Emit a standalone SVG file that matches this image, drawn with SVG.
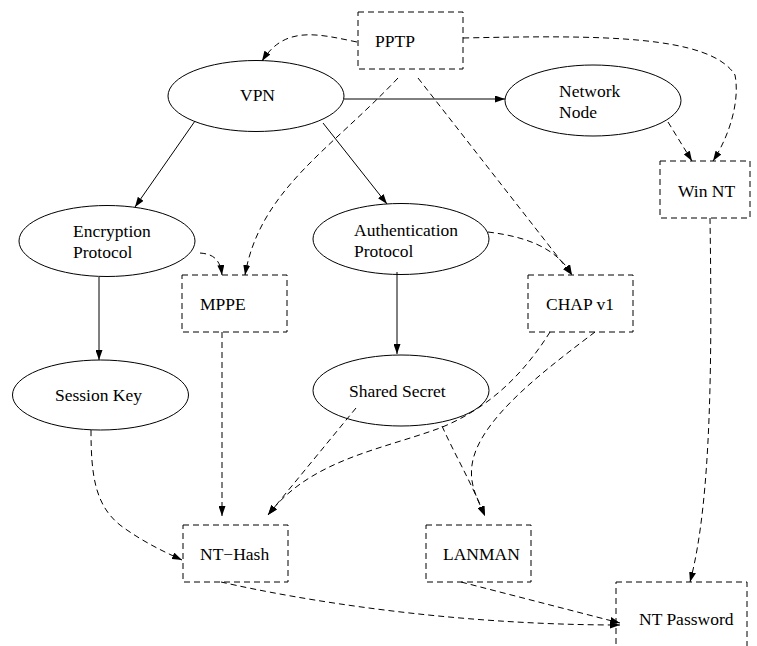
<svg xmlns="http://www.w3.org/2000/svg" width="757" height="646" viewBox="0 0 757 646">
<style>
  .bg { fill: #ffffff; }
  .ell { fill: none; stroke: #000; stroke-width: 1; }
  .box { fill: none; stroke: #000; stroke-width: 1; stroke-dasharray: 6,4; }
  .lbl { font-family: "Liberation Serif", "Times New Roman", serif; font-size: 17.5px; fill: #000; }
  .solid { fill: none; stroke: #000; stroke-width: 1; marker-end: url(#arrow); }
  .dash { fill: none; stroke: #000; stroke-width: 1; stroke-dasharray: 6,4; marker-end: url(#arrow); }
</style>
<defs>
  <marker id="arrow" markerUnits="userSpaceOnUse" viewBox="0 0 10 7" refX="10" refY="3.5" markerWidth="10" markerHeight="7" orient="auto">
    <path d="M0,0 L10,3.5 L0,7 z" fill="#000" stroke="none"/>
  </marker>
</defs>
<rect class="bg" x="0" y="0" width="757" height="646"/>

<g id="connectors">
  <path class="dash" d="M357,42 C318,34 285,25 262,61"/>
  <path class="dash" d="M463,38 C600,35 710,35 735,75 C740,100 730,135 713,161"/>
  <path class="dash" d="M398,78 C330,150 260,190 245,275"/>
  <path class="dash" d="M418,78 L572,275"/>
  <path class="solid" d="M344,99 L505,99"/>
  <path class="solid" d="M195,121 L135,207"/>
  <path class="solid" d="M323,123 L387,204"/>
  <path class="dash" d="M668,122 L692,161"/>
  <path class="dash" d="M200,253 C212,254 220,258 222,275"/>
  <path class="solid" d="M99,277 L99,360"/>
  <path class="dash" d="M488,232 C520,236 555,245 572,275"/>
  <path class="solid" d="M397,272 L397,354"/>
  <path class="dash" d="M222,332 L222,516"/>
  <path class="dash" d="M91,430 C91,475 95,505 120,525 C140,540 160,550 182,560"/>
  <path class="dash" d="M356,408 L268,515"/>
  <path class="dash" d="M550,332 C525,372 490,408 440,428 C380,450 310,460 268,515"/>
  <path class="dash" d="M595,332 C545,370 478,420 472,465 C469,485 478,500 485,516"/>
  <path class="dash" d="M442,426 C455,455 470,480 485,516"/>
  <path class="dash" d="M710,218 C712,350 712,500 690,582"/>
  <path class="dash" d="M221,582 C300,600 450,625 620,625"/>
  <path class="dash" d="M461,582 L620,623"/>
</g>

<g id="pptp">
  <rect class="box" x="358" y="12" width="105" height="57"/>
  <text class="lbl" x="375" y="47">PPTP</text>
</g>
<g id="vpn">
  <ellipse class="ell" cx="256" cy="96" rx="88" ry="35.5"/>
  <text class="lbl" x="240" y="101">VPN</text>
</g>
<g id="network-node">
  <ellipse class="ell" cx="593" cy="100.5" rx="88" ry="35.5"/>
  <text class="lbl" x="559" y="97">Network</text>
  <text class="lbl" x="559" y="118">Node</text>
</g>
<g id="win-nt">
  <rect class="box" x="660" y="161" width="90" height="57"/>
  <text class="lbl" x="678" y="197">Win NT</text>
</g>
<g id="encryption-protocol">
  <ellipse class="ell" cx="107" cy="241" rx="88" ry="35.5"/>
  <text class="lbl" x="73" y="237">Encryption</text>
  <text class="lbl" x="73" y="258">Protocol</text>
</g>
<g id="authentication-protocol">
  <ellipse class="ell" cx="401" cy="239" rx="88" ry="35.5"/>
  <text class="lbl" x="354" y="236">Authentication</text>
  <text class="lbl" x="354" y="257">Protocol</text>
</g>
<g id="mppe">
  <rect class="box" x="182" y="275" width="105" height="57"/>
  <text class="lbl" x="200" y="310">MPPE</text>
</g>
<g id="chap-v1">
  <rect class="box" x="528" y="275" width="105" height="57"/>
  <text class="lbl" x="546" y="310">CHAP v1</text>
</g>
<g id="session-key">
  <ellipse class="ell" cx="100.5" cy="395" rx="88" ry="35"/>
  <text class="lbl" x="55" y="401">Session Key</text>
</g>
<g id="shared-secret">
  <ellipse class="ell" cx="401" cy="390.5" rx="88" ry="35.5"/>
  <text class="lbl" x="349" y="397">Shared Secret</text>
</g>
<g id="nt-hash">
  <rect class="box" x="183" y="525" width="105" height="57"/>
  <text class="lbl" x="200" y="560">NT−Hash</text>
</g>
<g id="lanman">
  <rect class="box" x="426" y="525" width="105" height="57"/>
  <text class="lbl" x="443" y="560">LANMAN</text>
</g>
<g id="nt-password">
  <rect class="box" x="616" y="582" width="131" height="80"/>
  <text class="lbl" x="639" y="625">NT Password</text>
</g>
</svg>
